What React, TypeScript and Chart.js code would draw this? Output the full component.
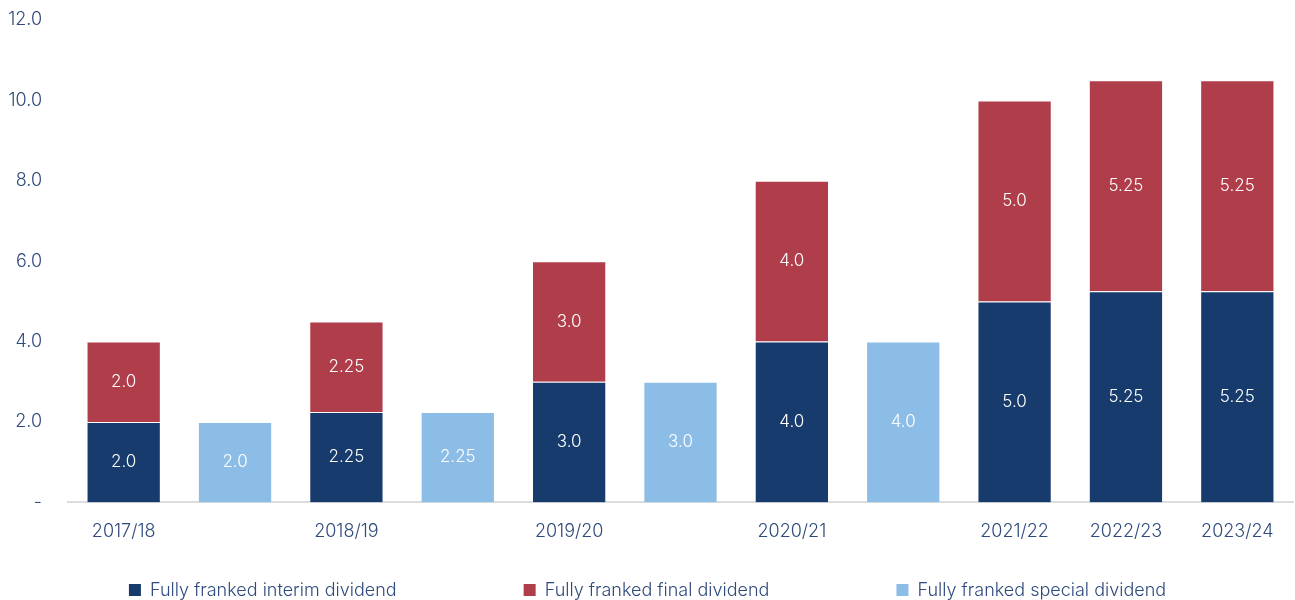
import React, { useEffect, useRef } from "react";
import { Chart, registerables } from "chart.js";

Chart.register(...registerables);

const categories = ["2017/18", "", "2018/19", "", "2019/20", "", "2020/21", "", "2021/22", "2022/23", "2023/24"];
const interim = [2.0, null, 2.25, null, 3.0, null, 4.0, null, 5.0, 5.25, 5.25];
const finalDiv = [2.0, null, 2.25, null, 3.0, null, 4.0, null, 5.0, 5.25, 5.25];
const special = [null, 2.0, null, 2.25, null, 3.0, null, 4.0, null, null, null];
const seriesNames = ["Fully franked interim dividend", "Fully franked final dividend", "Fully franked special dividend"];

const FONT = "Inter";
const TEXT = "#2f4a7c";

const labelPlugin = {
  id: "segLabels",
  afterDatasetsDraw(chart: any) {
    const ctx = chart.ctx;
    ctx.save();
    ctx.fillStyle = "#ffffff";
    ctx.font = `300 17px ${FONT}`;
    ctx.textAlign = "center";
    ctx.textBaseline = "middle";
    chart.data.datasets.forEach((ds: any, di: number) => {
      const meta = chart.getDatasetMeta(di);
      meta.data.forEach((el: any, i: number) => {
        const v = ds.data[i];
        if (v == null) return;
        const txt = v % 1 === 0 ? v.toFixed(1) : v.toFixed(2);
        ctx.fillText(txt, el.x, (el.y + el.base) / 2);
      });
    });
    ctx.restore();
  },
};

const legendPlugin = {
  id: "wideLegend",
  afterDraw(chart: any) {
    const ctx = chart.ctx;
    const box = 12;
    const gap = 9;
    const spacing = 127;
    ctx.save();
    ctx.font = `300 18px ${FONT}`;
    ctx.textBaseline = "middle";
    ctx.textAlign = "left";
    const items = chart.data.datasets.map((ds: any) => ({
      label: ds.label,
      color: ds.backgroundColor,
      w: box + gap + ctx.measureText(ds.label).width,
    }));
    const total = items.reduce((s: number, it: any) => s + it.w, 0) + spacing * (items.length - 1);
    let x = (chart.width - total) / 2;
    const y = chart.height - 10;
    items.forEach((it: any) => {
      ctx.fillStyle = it.color;
      ctx.fillRect(x, y - box / 2, box, box);
      ctx.fillStyle = TEXT;
      ctx.fillText(it.label, x + box + gap, y + 1);
      x += it.w + spacing;
    });
    ctx.restore();
  },
};

export default function App() {
  const ref = useRef<HTMLCanvasElement | null>(null);
  useEffect(() => {
    document.body.style.margin = "0";
    const chart = new Chart(ref.current!, {
      type: "bar",
      data: {
        labels: categories,
        datasets: [
          { label: seriesNames[0], data: interim, backgroundColor: "#163b6c", borderColor: "rgba(255,255,255,0.3)", borderWidth: 1 },
          { label: seriesNames[1], data: finalDiv, backgroundColor: "#b03d4a", borderColor: "rgba(255,255,255,0.3)", borderWidth: 1 },
          { label: seriesNames[2], data: special, backgroundColor: "#8bbde6", borderColor: "rgba(255,255,255,0.3)", borderWidth: 1 },
        ],
      },
      options: {
        animation: false,
        responsive: false,
        maintainAspectRatio: false,
        layout: { autoPadding: false, padding: { top: 20, left: 8, right: 2, bottom: 48 } } as any,
        datasets: { bar: { categoryPercentage: 0.667, barPercentage: 1 } } as any,
        plugins: {
          legend: { display: false },
          tooltip: { enabled: false },
        },
        scales: {
          x: {
            stacked: true,
            grid: { display: false },
            border: { display: true, color: "#dcdcdc", width: 2 },
            ticks: { color: TEXT, padding: 10, font: { family: FONT, size: 18, weight: 300 as any }, autoSkip: false, maxRotation: 0 },
          },
          y: {
            stacked: true,
            min: 0,
            max: 12,
            grid: { display: false },
            border: { display: false },
            afterFit: (s: any) => { s.width = 60; s.paddingTop = 0; s.paddingBottom = 0; },
            ticks: {
              stepSize: 2,
              color: TEXT,
              padding: 18,
              font: { family: FONT, size: 18, weight: 300 as any },
              callback: (v: any) => (Number(v) === 0 ? "-" : Number(v).toFixed(1)),
            },
          },
        },
      },
      plugins: [labelPlugin, legendPlugin],
    });
    return () => chart.destroy();
  }, []);
  return <canvas ref={ref} width={1295} height={600} style={{ display: "block" }} />;
}
